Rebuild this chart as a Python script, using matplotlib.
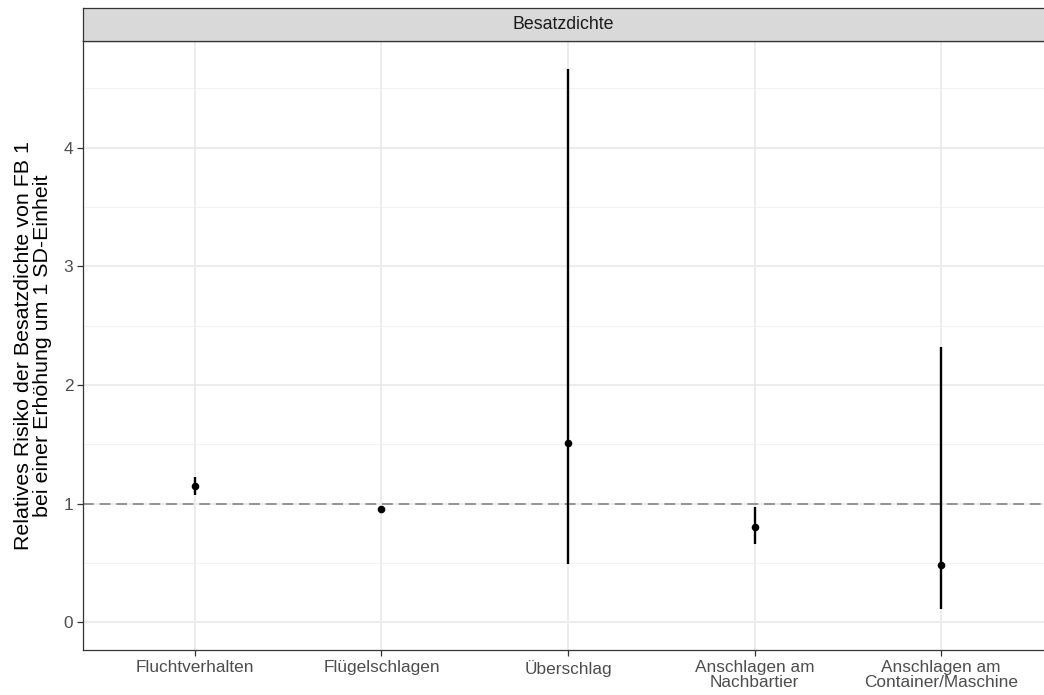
import numpy as np
import matplotlib
matplotlib.use('Agg')
import matplotlib.pyplot as plt

plt.rcParams['font.family'] = ['Liberation Sans', 'DejaVu Sans']

# data
categories = ['Fluchtverhalten', 'Flügelschlagen', 'Überschlag',
              'Anschlagen am\nNachbartier', 'Anschlagen am\nContainer/Maschine']
rr = [1.145, 0.955, 1.515, 0.80, 0.486]
rr_low = [1.07, 0.935, 0.494, 0.657, 0.11]
rr_high = [1.227, 0.975, 4.665, 0.974, 2.317]
y_ticks = [0, 1, 2, 3, 4]
strip_label = 'Besatzdichte'
y_title = 'Relatives Risiko der Besatzdichte von FB 1\nbei einer Erhöhung um 1 SD-Einheit'

W, H = 1044, 695
fig = plt.figure(figsize=(W / 100, H / 100), dpi=100)

# panel in pixel coords (left, top, right, bottom); right runs past the edge like the original
px_l, px_t, px_r, px_b = 83, 41, 1053, 650
ax = fig.add_axes([px_l / W, 1 - px_b / H, (px_r - px_l) / W, (px_b - px_t) / H])

x = np.arange(len(categories))
ax.set_xlim(-0.6, len(categories) - 0.4)
ax.set_ylim(-0.233, 4.898)

# grid like theme_bw
for v in np.arange(0.5, 5, 1.0):
    ax.axhline(v, color='#F2F2F2', lw=0.8, zorder=0)
for v in y_ticks:
    ax.axhline(v, color='#EBEBEB', lw=1.3, zorder=0)
for v in x:
    ax.axvline(v, color='#EBEBEB', lw=1.3, zorder=0)

ax.axhline(1, color='#8C8C8C', lw=1.3, ls=(0, (6, 3.2)), zorder=1)

ax.vlines(x, rr_low, rr_high, color='black', lw=1.7, zorder=2)
ax.scatter(x, rr, s=30, color='black', zorder=3, linewidths=0)

ax.set_xticks(x)
ax.set_xticklabels(categories, fontsize=12.4, color='#4D4D4D', linespacing=1.0)
ax.set_yticks(y_ticks)
ax.set_yticklabels([str(v) for v in y_ticks], fontsize=12.4, color='#4D4D4D')
ax.tick_params(length=4, width=0.9, color='#333333', pad=3)
for s in ax.spines.values():
    s.set_color('#333333')
    s.set_linewidth(0.9)

ax.set_ylabel(y_title, fontsize=15.4, color='black', linespacing=1.0, labelpad=8)

# facet strip
sx = fig.add_axes([px_l / W, 1 - px_t / H, (px_r - px_l) / W, 33 / H])
sx.set_facecolor('#D9D9D9')
sx.set_xticks([])
sx.set_yticks([])
for s in sx.spines.values():
    s.set_color('#333333')
    s.set_linewidth(0.9)
# label centred on the visible part of the strip
sx.text(((W - px_l) / 2) / (px_r - px_l), 0.5, strip_label, transform=sx.transAxes,
        ha='center', va='center', fontsize=12.8, color='#1A1A1A')

fig.savefig('out.png', dpi=100)
